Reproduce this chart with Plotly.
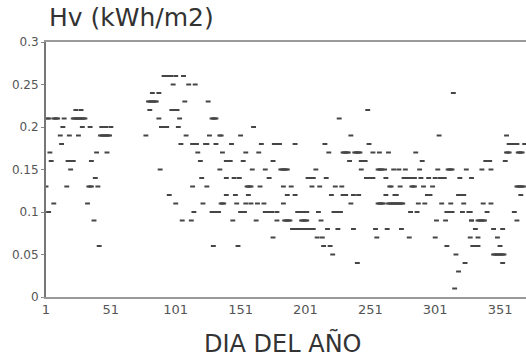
import plotly.graph_objects as go

# Daily vertical irradiation Hv (kWh/m2), grouped by level per period
levels_a = [0.22, 0.21, 0.20, 0.19, 0.18, 0.17, 0.16, 0.15, 0.14, 0.13, 0.11, 0.10, 0.09, 0.06]
days_a = [
    [24, 28],
    [2, 3, 7, 8, 9, 10, 15, 22, 23, 24, 25, 26, 27, 28, 29, 30, 31],
    [14, 29, 35, 44, 45, 46, 47, 51],
    [12, 19, 26, 43, 44, 45, 46, 47, 48, 49, 50],
    [13],
    [4, 40, 48],
    [5, 18, 19, 20, 21, 22, 36],
    [20],
    [39],
    [1, 17, 34, 35, 36, 41],
    [7, 33],
    [3],
    [38],
    [42],
]

levels_b = [0.26, 0.25, 0.24, 0.23, 0.22, 0.21, 0.20, 0.19, 0.18, 0.17, 0.16,
            0.15, 0.14, 0.13, 0.12, 0.11, 0.10, 0.09, 0.06]
days_b = [
    [92, 93, 94, 95, 96, 97, 101, 107],
    [99, 111, 116],
    [83, 88],
    [80, 81, 82, 83, 84, 85, 86, 108, 126],
    [81, 98, 99, 100, 101, 102],
    [88, 104, 129, 130, 131, 132],
    [90, 91, 92, 93, 94, 103],
    [78, 109, 127, 135],
    [105, 114, 115, 116, 117, 124, 125, 132],
    [118],
    [120],
    [89, 135],
    [121],
    [114, 125],
    [96],
    [101, 122],
    [115, 129, 130, 131, 132, 133, 134],
    [106, 113],
    [130],
]

levels_c = [0.20, 0.19, 0.18, 0.17, 0.16, 0.15, 0.14, 0.13, 0.12, 0.11, 0.10, 0.09, 0.08, 0.07, 0.06]
days_c = [
    [161],
    [136, 151],
    [144, 167, 177, 178, 179, 180, 181, 193],
    [137, 155, 165],
    [140, 141, 142, 143, 153, 176],
    [160, 170, 182, 183, 184, 185, 186, 187],
    [140, 146, 150, 173],
    [156, 157, 158, 159, 166, 184, 190],
    [140, 147, 157, 187, 193],
    [136, 137, 138, 148, 155, 159, 164, 169, 184],
    [151, 152, 153, 154, 170, 171, 172, 173, 174, 175, 179, 195, 196, 197, 198, 199, 200],
    [145, 163, 179, 185, 186, 187, 188, 189, 198],
    [191, 192, 193, 194, 195, 196, 197, 198, 199],
    [176],
    [149],
]

levels_d = [0.22, 0.21, 0.19, 0.18, 0.17, 0.16, 0.15, 0.14, 0.13, 0.12, 0.11,
            0.10, 0.09, 0.08, 0.07, 0.06, 0.05, 0.04]
days_d = [
    [249],
    [227],
    [236],
    [216, 250],
    [219, 230, 231, 232, 233, 234, 239, 240, 241, 242, 243, 253, 258, 265],
    [235, 244, 245, 246, 247],
    [209, 244, 257, 258, 259, 260],
    [203, 204, 205, 206, 207, 217, 248, 249, 250, 251, 252, 253, 263],
    [206, 212, 224, 229, 266],
    [221, 230, 231, 232, 238, 242, 263],
    [236, 257, 258, 259, 260, 261, 265],
    [201, 202, 211, 223, 224, 225, 226, 227, 228],
    [199, 200, 201, 202, 213],
    [200, 201, 202, 203, 204, 205, 206, 207, 218, 226, 238, 255, 264],
    [210, 214, 256],
    [215, 220],
    [222],
    [241],
]

levels_e = [0.24, 0.19, 0.17, 0.16, 0.15, 0.14, 0.13, 0.12, 0.11, 0.10,
            0.09, 0.08, 0.07, 0.06, 0.05, 0.04, 0.03, 0.01]
days_e = [
    [315],
    [304],
    [286],
    [291],
    [262, 269, 273, 278, 289, 303, 311, 312, 313, 314, 325],
    [277, 278, 279, 280, 281, 282, 283, 284, 285, 290, 296, 301, 305, 306, 307, 308, 320, 329],
    [267, 274, 283, 284, 285, 292, 299],
    [270, 271, 295, 296, 297, 319, 320, 321, 322, 323],
    [266, 267, 268, 269, 270, 271, 272, 273, 274, 275, 276, 288, 293, 306, 313, 323],
    [282, 287, 310, 311, 312, 313, 314, 322, 328],
    [302, 309, 329],
    [275],
    [281, 301],
    [310, 330],
    [317],
    [324],
    [319],
    [316],
]

levels_f = [0.19, 0.18, 0.17, 0.16, 0.15, 0.13, 0.12, 0.11, 0.10, 0.09, 0.08, 0.07, 0.06, 0.05, 0.04]
days_f = [
    [356],
    [358, 359, 360, 361, 362, 363, 364, 370],
    [356, 357, 358, 365, 366, 367, 368],
    [340, 341, 342, 343, 355],
    [337, 344],
    [364, 365, 366, 367, 368, 369],
    [367],
    [338, 344],
    [327, 341, 362],
    [329, 334, 335, 336, 337, 338, 339, 364],
    [332, 346, 353],
    [328, 334, 349],
    [331, 332, 333, 334, 351],
    [346, 347, 348, 349, 350, 351, 352, 353, 354],
    [353],
]

x_ticks = [1, 51, 101, 151, 201, 251, 301, 351]
y_ticks = [0, 0.05, 0.1, 0.15, 0.2, 0.25, 0.3]
y_ticktext = ["0", "0.05", "0.1", "0.15", "0.2", "0.25", "0.3"]

xs, ys = [], []
for levels, days in [(levels_a, days_a), (levels_b, days_b), (levels_c, days_c),
                     (levels_d, days_d), (levels_e, days_e), (levels_f, days_f)]:
    for lv, dl in zip(levels, days):
        for d in dl:
            xs.append(d)
            ys.append(lv)

W, H = 526, 358
ML, MR, MT, MB = 46, 0, 42, 61
pw, ph = W - ML - MR, H - MT - MB

fig = go.Figure()
fig.add_trace(go.Scatter(
    x=xs, y=ys, mode="markers",
    marker=dict(symbol="line-ew", size=3.5, line=dict(width=2, color="#454545")),
    hoverinfo="skip", showlegend=False,
))

fig.update_layout(
    width=W, height=H,
    margin=dict(l=ML, r=MR, t=MT, b=MB),
    paper_bgcolor="white", plot_bgcolor="white",
    font=dict(family="DejaVu Sans", color="#444"),
    xaxis=dict(
        range=[1, 371], tickvals=x_ticks, ticktext=[str(t) for t in x_ticks],
        showgrid=False, zeroline=False, showline=True, linecolor="#9a9a9a", linewidth=1.5,
        mirror=True, ticks="", tickfont=dict(size=13, color="#555"),
    ),
    yaxis=dict(
        range=[0, 0.3], tickvals=y_ticks, ticktext=y_ticktext,
        showgrid=False, zeroline=False, showline=True, linecolor="#777", linewidth=2,
        ticks="outside", ticklen=3, tickcolor="#888", tickfont=dict(size=12, color="#555"),
    ),
    annotations=[
        dict(text="Hv (kWh/m2)", xref="paper", yref="paper", showarrow=False,
             x=(47 - ML) / pw, y=(H - MB - 18) / ph,
             xanchor="left", yanchor="middle", font=dict(size=25, color="#333")),
        dict(text="DIA DEL AÑO", xref="paper", yref="paper", showarrow=False,
             x=(283 - ML) / pw, y=-(343 - (H - MB)) / ph,
             xanchor="center", yanchor="middle", font=dict(size=24, color="#333")),
    ],
)

fig.write_html("out.html")
